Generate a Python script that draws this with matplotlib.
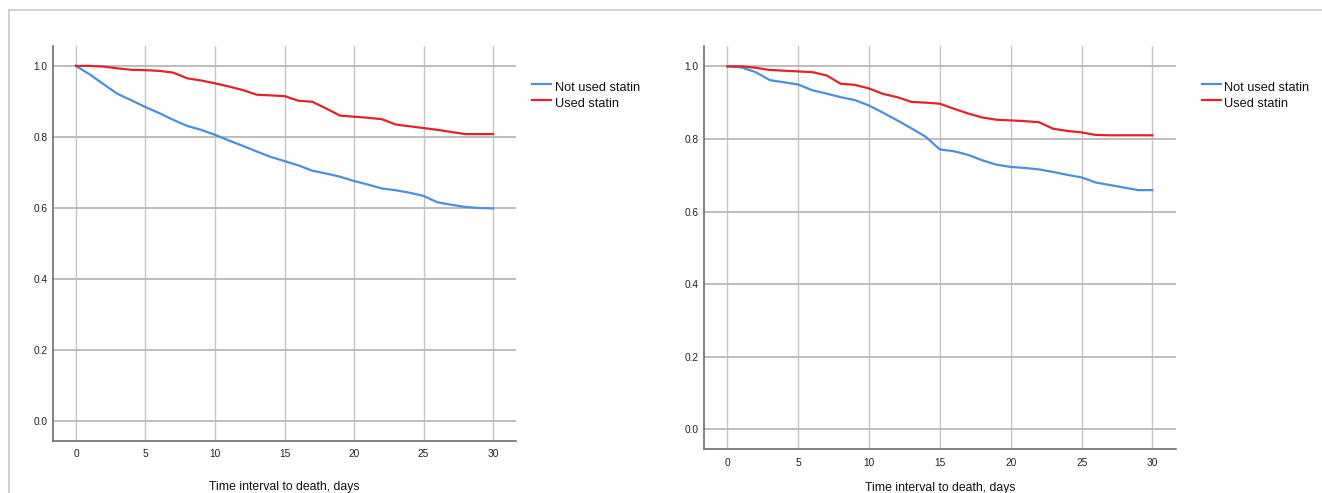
import matplotlib
matplotlib.use("Agg")
import matplotlib.pyplot as plt
from matplotlib.lines import Line2D

plt.rcParams['font.family'] = ['Liberation Sans', 'DejaVu Sans']

days = list(range(0, 31))

left_not_used = [1.000, 0.976, 0.948, 0.921, 0.903, 0.884, 0.867, 0.848, 0.831, 0.820,
                 0.806, 0.790, 0.775, 0.759, 0.744, 0.732, 0.720, 0.705, 0.697, 0.688,
                 0.676, 0.666, 0.655, 0.650, 0.643, 0.634, 0.616, 0.609, 0.603, 0.600, 0.599]
left_used = [1.000, 1.000, 0.998, 0.993, 0.989, 0.988, 0.986, 0.981, 0.965, 0.959,
             0.951, 0.942, 0.932, 0.919, 0.917, 0.915, 0.902, 0.899, 0.880, 0.860,
             0.857, 0.854, 0.850, 0.835, 0.830, 0.825, 0.820, 0.814, 0.808, 0.808, 0.808]

right_not_used = [1.000, 0.997, 0.984, 0.962, 0.956, 0.950, 0.934, 0.925, 0.915, 0.907,
                  0.892, 0.872, 0.851, 0.829, 0.806, 0.771, 0.766, 0.756, 0.741, 0.729,
                  0.723, 0.720, 0.716, 0.709, 0.701, 0.694, 0.680, 0.673, 0.666, 0.659, 0.659]
right_used = [1.000, 1.000, 0.996, 0.990, 0.988, 0.986, 0.984, 0.975, 0.952, 0.949,
              0.939, 0.924, 0.915, 0.902, 0.900, 0.897, 0.883, 0.870, 0.859, 0.853,
              0.851, 0.849, 0.846, 0.828, 0.822, 0.818, 0.811, 0.810, 0.810, 0.810, 0.810]

series_labels = ["Not used statin", "Used statin"]
x_ticks = [0, 5, 10, 15, 20, 25, 30]
y_ticks = [0.0, 0.2, 0.4, 0.6, 0.8, 1.0]
xlabel = "Time interval to death, days"

BLUE = "#4a90dc"
RED = "#e0232c"

W, H = 1322, 493
fig = plt.figure(figsize=(W / 100, H / 100), dpi=100)
fig.patch.set_facecolor("white")

# outer frame lines
fig.add_artist(Line2D([9 / W, 1.0], [1 - 10 / H, 1 - 10 / H], color="#c8c8c8", lw=1.2))
fig.add_artist(Line2D([9 / W, 9 / W], [0, 1 - 10 / H], color="#c8c8c8", lw=1.2))

panels = [
    dict(rect=(52.6, 516.0, 46.0, 440.7), nu=left_not_used, u=left_used,
         leg=(532, 551, 555, 84, 100), xlab=(284, 487)),
    dict(rect=(703.5, 1175.8, 46.0, 449.3), nu=right_not_used, u=right_used,
         leg=(1202, 1221, 1224, 84, 100), xlab=(940, 488)),
]

for p in panels:
    x0, x1, yt, yb = p["rect"]
    ax = fig.add_axes([x0 / W, 1 - yb / H, (x1 - x0) / W, (yb - yt) / H])
    ax.set_xlim(-1.68, 31.65)
    ax.set_ylim(-0.055, 1.056)
    ax.set_xticks(x_ticks)
    ax.set_yticks(y_ticks)
    ax.set_xticklabels([str(t) for t in x_ticks])
    ax.set_yticklabels([f"{t:.1f}" for t in y_ticks])
    ax.tick_params(length=0, labelsize=7.3, colors="#222222")
    ax.tick_params(axis="x", pad=6)
    ax.tick_params(axis="y", pad=3.5)
    ax.grid(True, axis="x", color="#c4c4c4", lw=1.0)
    ax.grid(True, axis="y", color="#b8b8b8", lw=1.3)
    ax.set_axisbelow(True)
    for s in ["top", "right"]:
        ax.spines[s].set_visible(False)
    for s in ["left", "bottom"]:
        ax.spines[s].set_color("#6e6e6e")
        ax.spines[s].set_linewidth(1.2)
    ax.plot(days, p["nu"], color=BLUE, lw=1.6, label=series_labels[0])
    ax.plot(days, p["u"], color=RED, lw=1.6, label=series_labels[1])

    lx0, lx1, tx, yb1, yb2 = p["leg"]
    for yy, col, lab in [(yb1, BLUE, series_labels[0]), (yb2, RED, series_labels[1])]:
        fig.add_artist(Line2D([lx0 / W, lx1 / W], [1 - yy / H, 1 - yy / H], color=col, lw=1.6))
        fig.text(tx / W, 1 - (yy + 4) / H, lab, fontsize=9.2, va="center", ha="left",
                 color="#111111")
    cx, cy = p["xlab"]
    fig.text(cx / W, 1 - cy / H, xlabel, fontsize=8.8, ha="center", va="center",
             color="#111111")

fig.savefig("out.png", dpi=100, facecolor="white")
